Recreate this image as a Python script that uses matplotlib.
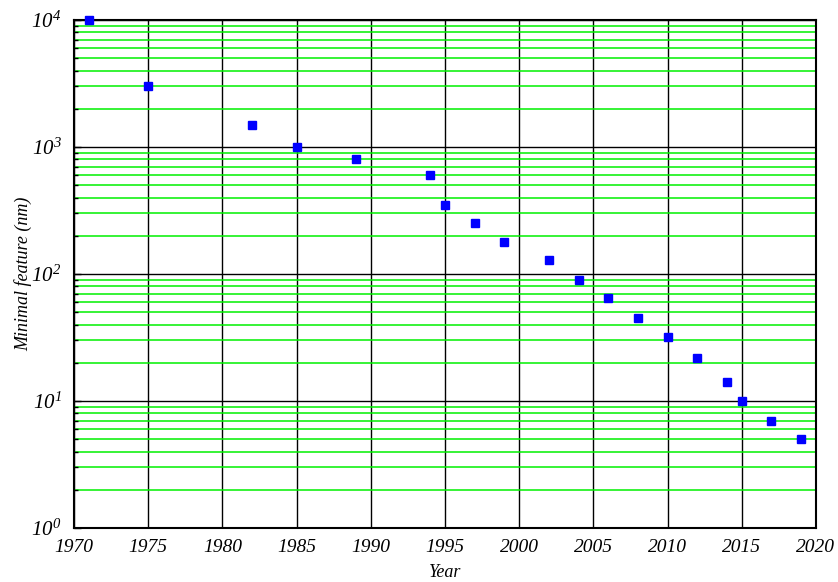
import numpy as np
import matplotlib
matplotlib.use("Agg")
from matplotlib import pyplot as plt
from matplotlib.ticker import FixedLocator, LogLocator, NullFormatter, FuncFormatter

# feature size data
years = [1971, 1975, 1982, 1985, 1989, 1994, 1995, 1997, 1999, 2002,
         2004, 2006, 2008, 2010, 2012, 2014, 2015, 2017, 2019]
feature_nm = [10000, 3000, 1500, 1000, 800, 600, 350, 250, 180, 130,
              90, 65, 45, 32, 22, 14, 10, 7, 5]
x_ticks = list(range(1970, 2021, 5))

plt.rcParams['font.family'] = ['Liberation Serif', 'DejaVu Serif']
plt.rcParams['font.style'] = 'italic'
plt.rcParams['mathtext.fontset'] = 'custom'
plt.rcParams['mathtext.rm'] = 'Liberation Serif:italic'
plt.rcParams['mathtext.it'] = 'Liberation Serif:italic'
plt.rcParams['mathtext.default'] = 'it'

fig = plt.figure(figsize=(8.38, 5.82), dpi=100)
ax = fig.add_axes([0.0883, 0.0928, 0.9737 - 0.0883, 0.9656 - 0.0928])

ax.set_yscale('log')
ax.set_xlim(1970, 2020)
ax.set_ylim(1, 1e4)

ax.xaxis.set_major_locator(FixedLocator(x_ticks))
ax.yaxis.set_major_locator(LogLocator(base=10, numticks=10))
ax.yaxis.set_minor_locator(LogLocator(base=10, subs=np.arange(2, 10), numticks=50))
ax.yaxis.set_minor_formatter(NullFormatter())
ax.yaxis.set_major_formatter(FuncFormatter(lambda v, p: r'$10^{%d}$' % round(np.log10(v))))

ax.grid(which='minor', axis='y', color='#00f000', lw=1.1, zorder=0)
ax.grid(which='major', axis='both', color='black', lw=1.0, zorder=1)
ax.set_axisbelow(True)

ax.tick_params(axis='y', which='both', direction='in', length=5, width=1, labelsize=15, pad=9)
ax.tick_params(axis='y', which='minor', length=3)
ax.tick_params(axis='x', which='both', length=0, labelsize=14, pad=8)

for s in ax.spines.values():
    s.set_linewidth(1.5)

ax.plot(years, feature_nm, 's', color='#0000ff', markersize=6, linestyle='none',
        clip_on=False, zorder=3)

ax.set_xlabel('Year', fontsize=13, labelpad=6)
ax.set_ylabel('Minimal feature (nm)', fontsize=13, labelpad=-1)

fig.savefig('out.png', dpi=100)
